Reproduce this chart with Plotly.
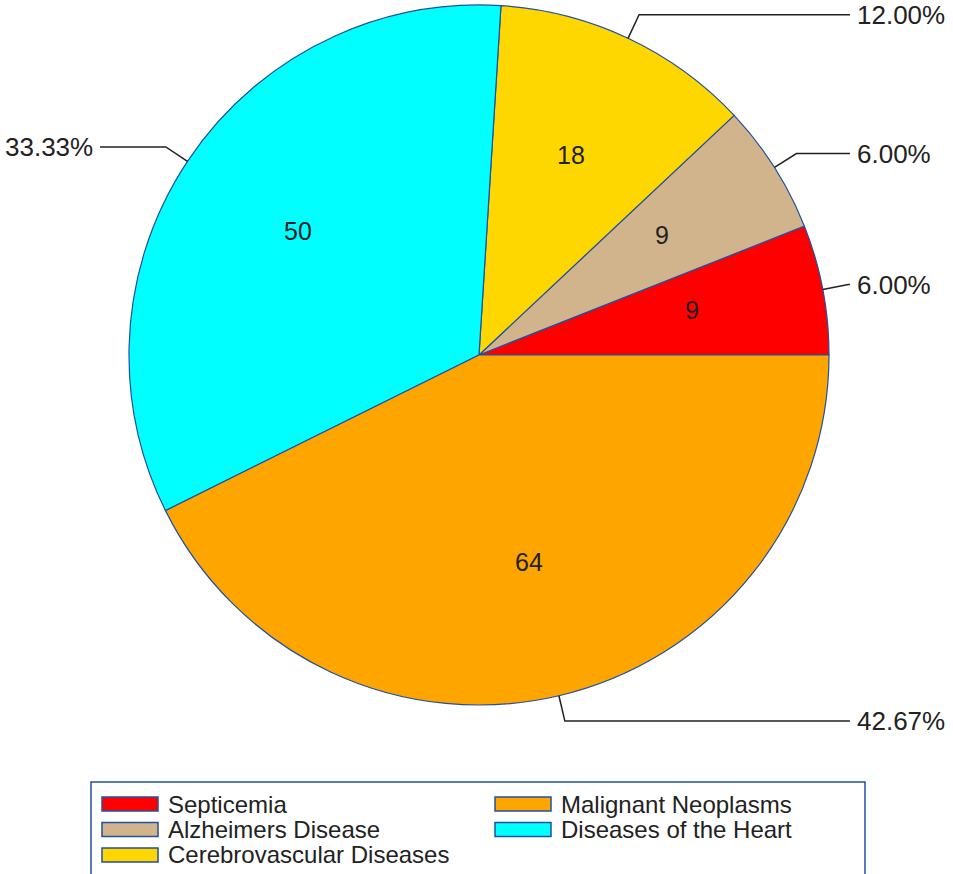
import math
import plotly.graph_objects as go

# ---- data (slice order, counterclockwise from 3 o'clock) ----
categories = ["Septicemia", "Alzheimers Disease", "Cerebrovascular Diseases",
              "Diseases of the Heart", "Malignant Neoplasms"]
values = [9, 9, 18, 50, 64]
colors = ["#FF0000", "#D2B48C", "#FFD700", "#00FFFF", "#FFA500"]
# legend reading order (row-major, 2 columns)
legend_order = ["Septicemia", "Malignant Neoplasms", "Alzheimers Disease",
                "Diseases of the Heart", "Cerebrovascular Diseases"]

W, H = 953, 874
ML, MR, MT, MB = 129, 124, 5, 169
PW = W - ML - MR
PH = H - MT - MB
FONT = "Liberation Sans, Arial, sans-serif"
TXT = "#222222"
EDGE = "#2050A0"


def px(x):
    return (x - ML) / PW


def py(y):
    return (H - MB - y) / PH


total = sum(values)
fig = go.Figure()
fig.add_trace(go.Pie(
    labels=categories, values=values, sort=False, direction="counterclockwise",
    rotation=90 - values[0] / total * 360, textinfo="none", showlegend=False,
    marker=dict(colors=colors, line=dict(color=EDGE, width=1.2)),
    domain=dict(x=[0, 1], y=[0, 1]), hoverinfo="label+value+percent",
))

shapes = []
annotations = []
cum = 0.0
cx, cy, r = 0.5, 0.5, 0.5
ext = 26 / PW
for cat, v in zip(categories, values):
    a0 = cum / total * 2 * math.pi
    cum += v
    a1 = cum / total * 2 * math.pi
    mid = (a0 + a1) / 2
    c, s = math.cos(mid), math.sin(mid)
    # inside value label
    annotations.append(dict(
        x=cx + 0.62 * r * c, y=cy + 0.62 * r * s, xref="paper", yref="paper",
        text=str(v), showarrow=False, xanchor="center", yanchor="middle",
        yshift=4, font=dict(family=FONT, size=25, color=TXT)))
    # leader line
    ex, ey = cx + r * c, cy + r * s
    bx, by = cx + (r + ext) * c, cy + (r + ext) * s
    right = c >= 0
    lx = px(850) if right else px(100)
    shapes.append(dict(
        type="path", xref="paper", yref="paper",
        path=f"M {ex} {ey} L {bx} {by} L {lx} {by}",
        line=dict(color="#222222", width=1.5)))
    annotations.append(dict(
        x=lx + (5 / PW if right else -5 / PW), y=by, xref="paper", yref="paper",
        text=f"{v / total * 100:.2f}%", showarrow=False,
        xanchor="left" if right else "right", yanchor="middle",
        font=dict(family=FONT, size=26, color=TXT)))

# ---- legend (manual, 2 columns) ----
shapes.append(dict(type="rect", xref="paper", yref="paper",
                   x0=px(91), x1=px(865), y0=py(900), y1=py(782),
                   line=dict(color=EDGE, width=1.5), fillcolor="white", layer="below"))
col_x = [102, 495]
row_y = [804, 829.5, 855]
for i, name in enumerate(legend_order):
    col, row = i % 2, i // 2
    color = colors[categories.index(name)]
    x0 = col_x[col]
    yc = row_y[row]
    shapes.append(dict(type="rect", xref="paper", yref="paper",
                       x0=px(x0), x1=px(x0 + 56), y0=py(yc + 7), y1=py(yc - 7),
                       line=dict(color=EDGE, width=1.5), fillcolor=color))
    annotations.append(dict(
        x=px(x0 + 64), y=py(yc), xref="paper", yref="paper", text=name,
        showarrow=False, xanchor="left", yanchor="middle",
        font=dict(family=FONT, size=24, color=TXT)))

fig.update_layout(
    width=W, height=H, margin=dict(l=ML, r=MR, t=MT, b=MB),
    paper_bgcolor="white", plot_bgcolor="white",
    shapes=shapes, annotations=annotations, showlegend=False,
)
fig.write_html("out.html", config={"displayModeBar": False},
               post_script="document.body.style.margin='0';")
